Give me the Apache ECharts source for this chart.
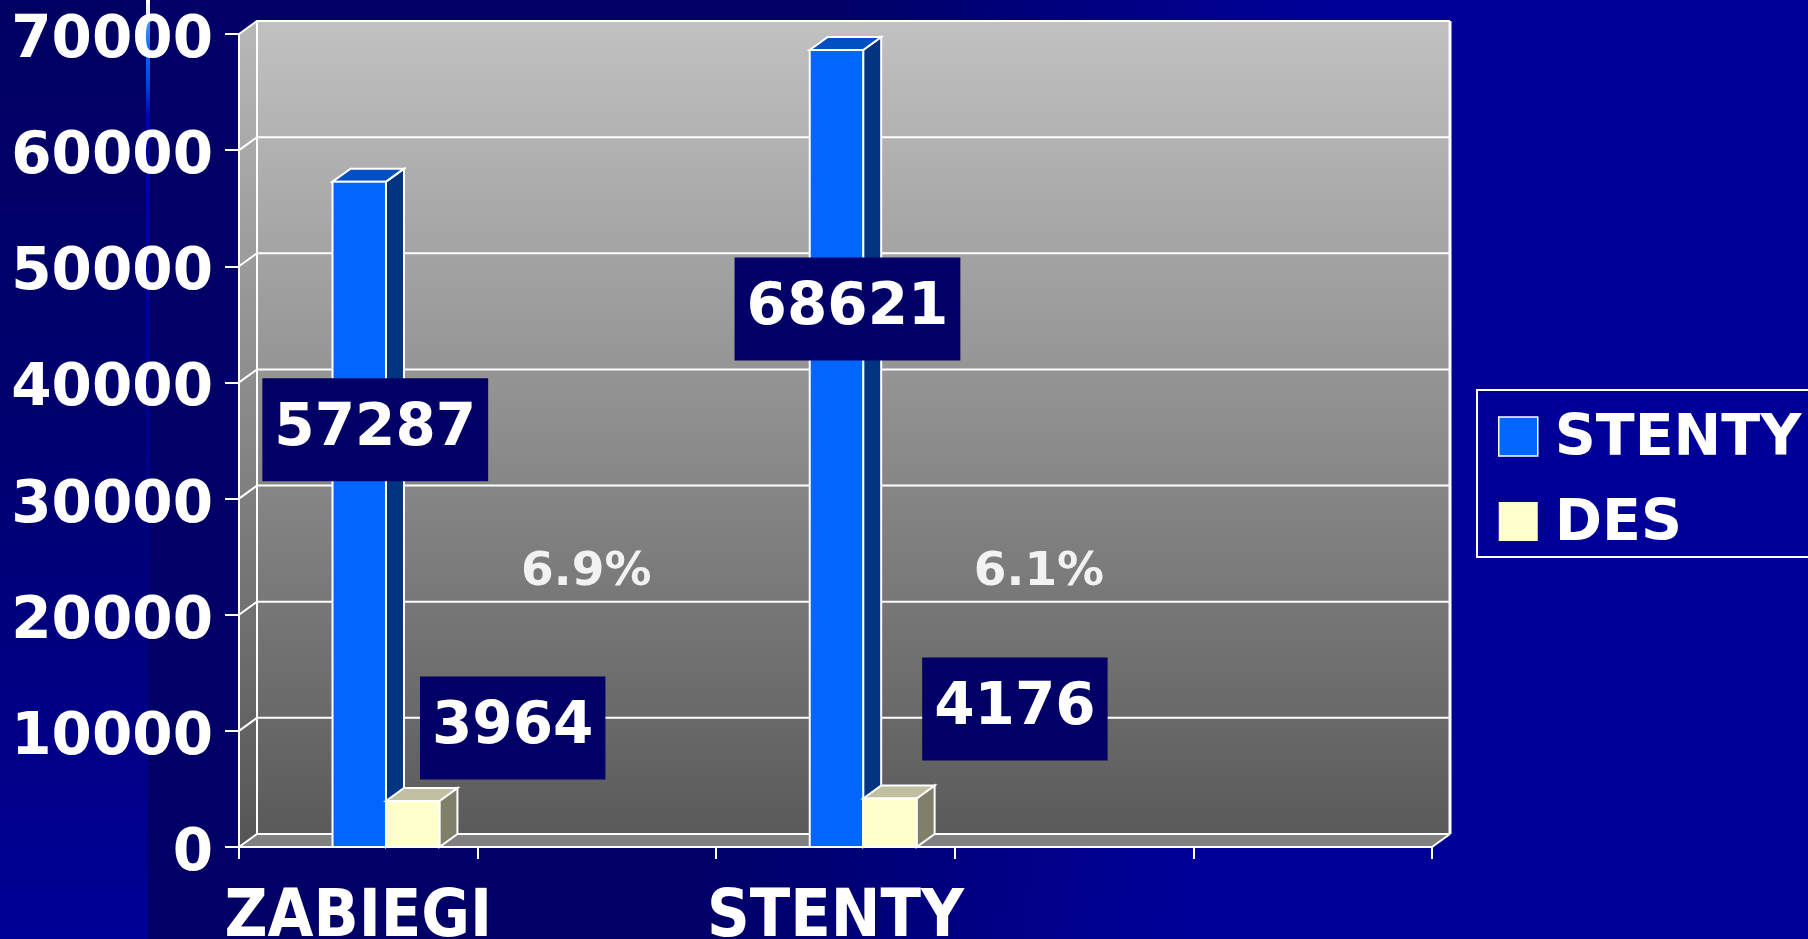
<!DOCTYPE html>
<html>
<head>
<meta charset="utf-8">
<script src="https://cdn.jsdelivr.net/npm/echarts@6/dist/echarts.min.js"></script>
<style>
html,body{margin:0;padding:0;background:#000066;overflow:hidden;}
#c{width:1808px;height:939px;}
</style>
</head>
<body>
<div id="c"></div>
<script>
// ---- DATA ----
const categories = ['ZABIEGI', '', 'STENTY', '', ''];
const seriesNames = ['STENTY', 'DES'];
const stentyValues = [57287, null, 68621, null, null];
const desValues = [3964, null, 4176, null, null];
const ratioLabels = ['6.9%', null, '6.1%', null, null];
const yTicks = [0, 10000, 20000, 30000, 40000, 50000, 60000, 70000];

// ---- STYLE ----
const DX = 18, DY = -13;               // 3D depth offset
const BAR_W = 0.224;                   // bar width as share of band
const BAR_START = [-0.108, 0.116];     // bar left edge offset as share of band
const BAR_COLORS = [
  {front: '#0066ff', top: '#0050c4', side: '#003380'},
  {front: '#ffffcc', top: '#c0c0a0', side: '#80806a'}
];
const LABEL_OFFSETS = [
  [[16, 248], null, [11, 259], null, null],
  [[100, -73], null, [125, -89.5], null, null]
];
const RATIO_DX = [228, null, 203.5, null, null];
const RATIO_Y_VALUE = 23600;
const FONT = '"DejaVu Sans", Verdana, sans-serif';
const FONT_COND = '"DejaVu Sans Condensed", "DejaVu Sans", sans-serif';

const chart = echarts.init(document.getElementById('c'), null, {renderer: 'canvas'});

function frameRender(params, api) {
  const cs = params.coordSys;
  const x0 = cs.x, x1 = cs.x + cs.width, yT = cs.y, yB = cs.y + cs.height;
  const ch = [];
  ch.push({type: 'polygon', shape: {points: [[x0, yB], [x1, yB], [x1 + DX, yB + DY], [x0 + DX, yB + DY]]},
    style: {fill: '#808080'}});
  ch.push({type: 'polygon', shape: {points: [[x0, yB], [x0, yT], [x0 + DX, yT + DY], [x0 + DX, yB + DY]]},
    style: {fill: new echarts.graphic.LinearGradient(0, 0, 0, 1, [
      {offset: 0, color: '#b8b8b8'}, {offset: 1, color: '#555555'}])}});
  ch.push({type: 'rect', shape: {x: x0 + DX, y: yT + DY, width: cs.width, height: cs.height},
    style: {fill: new echarts.graphic.LinearGradient(0, 0, 0, 1, [
      {offset: 0, color: '#c1c1c1'}, {offset: 1, color: '#5a5a5a'}])}});
  yTicks.forEach(function (v) {
    const y = api.coord([0, v])[1];
    ch.push({type: 'polyline', shape: {points: [[x0, y], [x0 + DX, y + DY], [x1 + DX, y + DY]]},
      style: {stroke: '#ffffff', lineWidth: 2, fill: null}});
  });
  ch.push({type: 'line', shape: {x1: x0 + DX, y1: yT + DY, x2: x0 + DX, y2: yB + DY}, style: {stroke: '#ffffff', lineWidth: 2}});
  ch.push({type: 'line', shape: {x1: x1 + DX, y1: yT + DY, x2: x1 + DX, y2: yB + DY}, style: {stroke: '#ffffff', lineWidth: 3}});
  ch.push({type: 'line', shape: {x1: x1, y1: yB, x2: x1 + DX, y2: yB + DY}, style: {stroke: '#ffffff', lineWidth: 2}});
  return {type: 'group', children: ch};
}

function barRender(sIdx) {
  return function (params, api) {
    const i = api.value(0), v = api.value(1);
    const base = api.coord([i, 0]);
    const top = api.coord([i, v]);
    const bw = api.size([1, 0])[0];
    const w = bw * BAR_W;
    const xl = base[0] + bw * BAR_START[sIdx];
    const yT = top[1], yB = base[1];
    const c = BAR_COLORS[sIdx];
    const ch = [
      {type: 'polygon', shape: {points: [[xl + w, yB], [xl + w, yT], [xl + w + DX, yT + DY], [xl + w + DX, yB + DY]]},
        style: {fill: c.side, stroke: '#ffffff', lineWidth: 2}},
      {type: 'polygon', shape: {points: [[xl, yT], [xl + DX, yT + DY], [xl + w + DX, yT + DY], [xl + w, yT]]},
        style: {fill: c.top, stroke: '#ffffff', lineWidth: 2}},
      {type: 'rect', shape: {x: xl, y: yT, width: w, height: yB - yT},
        style: {fill: c.front, stroke: '#ffffff', lineWidth: 2}}
    ];
    const off = LABEL_OFFSETS[sIdx][i];
    if (off) {
      ch.push({type: 'text', x: xl + w / 2 + off[0], y: yT + off[1], z2: 50,
        style: {text: String(v), fill: '#ffffff', fontSize: 58, fontWeight: 'bold', fontFamily: FONT,
          align: 'center', verticalAlign: 'middle', backgroundColor: '#000066',
          padding: [28, 12, 17, 12], lineHeight: 58}});
    }
    return {type: 'group', children: ch};
  };
}

function ratioRender(params, api) {
  const i = api.value(0);
  const p = api.coord([i, RATIO_Y_VALUE]);
  return {type: 'text', x: p[0] + RATIO_DX[i], y: p[1],
    style: {text: ratioLabels[i], fill: '#f2f2f2', fontSize: 47, fontWeight: 'bold', fontFamily: FONT,
      align: 'center', verticalAlign: 'middle'}};
}

function seriesData(vals) {
  return vals.map(function (v, i) { return [i, v]; }).filter(function (d) { return d[1] != null; });
}

const option = {
  animation: false,
  backgroundColor: 'transparent',
  graphic: [
    {type: 'rect', z: -30, silent: true, shape: {x: 0, y: 0, width: 1808, height: 939},
      style: {fill: new echarts.graphic.LinearGradient(0, 0, 1, 0.3, [
        {offset: 0, color: '#000066'}, {offset: 0.45, color: '#000066'},
        {offset: 0.72, color: '#000099'}, {offset: 1, color: '#000099'}])}},
    {type: 'rect', z: -29, silent: true, shape: {x: 0, y: 0, width: 148, height: 939},
      style: {fill: new echarts.graphic.LinearGradient(0, 0, 0, 1, [
        {offset: 0, color: '#000062'}, {offset: 0.45, color: '#00006e'}, {offset: 1, color: '#000096'}])}},
    {type: 'rect', z: -28, silent: true, shape: {x: 146, y: 0, width: 4, height: 650},
      style: {fill: new echarts.graphic.LinearGradient(0, 0, 0, 1, [
        {offset: 0, color: '#ffffff'}, {offset: 0.02, color: '#e8eeff'}, {offset: 0.035, color: '#4d94ff'},
        {offset: 0.08, color: '#0066ff'}, {offset: 0.13, color: '#0044dd'}, {offset: 0.18, color: '#0000b4'},
        {offset: 0.5, color: '#00009e'}, {offset: 1, color: 'rgba(0,0,160,0)'}])}}
  ],
  grid: {left: 239, right: 376, top: 34, bottom: 92, containLabel: false, outerBoundsMode: 'none'},
  legend: {
    orient: 'vertical', left: 1477, top: 390,
    data: [
      {name: 'STENTY', icon: 'rect', itemStyle: {color: '#0066ff', borderColor: '#ffffff', borderWidth: 1.5}},
      {name: 'DES', icon: 'rect', itemStyle: {color: '#ffffcc', borderColor: '#ffffcc', borderWidth: 0}}
    ],
    itemWidth: 39, itemHeight: 39, itemGap: 20,
    padding: [14, 40, 3, 21],
    borderColor: '#ffffff', borderWidth: 2,
    selectedMode: false,
    formatter: '{t|{name}}',
    textStyle: {color: '#ffffff', fontSize: 57, fontWeight: 'bold', fontFamily: FONT,
      rich: {t: {color: '#ffffff', fontSize: 57, fontWeight: 'bold', fontFamily: FONT, lineHeight: 60, padding: [8, 0, 0, 12]}}}
  },
  xAxis: {
    type: 'category', data: categories, boundaryGap: true, z: 5,
    axisLine: {show: true, lineStyle: {color: '#ffffff', width: 2}},
    axisTick: {show: true, length: 12, lineStyle: {color: '#ffffff', width: 2}},
    axisLabel: {show: true, interval: 0, color: '#ffffff', fontSize: 66, fontWeight: 'bold', fontFamily: FONT_COND, margin: 39},
    splitLine: {show: false}
  },
  yAxis: {
    type: 'value', min: 0, max: 70000, interval: 10000, z: 5,
    axisLine: {show: true, lineStyle: {color: '#ffffff', width: 2}},
    axisTick: {show: true, length: 14, lineStyle: {color: '#ffffff', width: 2}},
    axisLabel: {show: true, color: '#ffffff', fontSize: 58, fontWeight: 'bold', fontFamily: FONT, margin: 26,
      verticalAlign: 'top', lineHeight: 16,
      formatter: function (v) { return String(v); }},
    splitLine: {show: false}
  },
  series: [
    {type: 'custom', name: 'frame', z: 1, silent: true, renderItem: frameRender, data: [[0, 0]], encode: {x: 0, y: 1}},
    {type: 'custom', name: seriesNames[0], z: 2, renderItem: barRender(0), itemStyle: {color: '#0066ff'},
      data: seriesData(stentyValues), encode: {x: 0, y: 1}},
    {type: 'custom', name: seriesNames[1], z: 3, renderItem: barRender(1), itemStyle: {color: '#ffffcc'},
      data: seriesData(desValues), encode: {x: 0, y: 1}},
    {type: 'custom', name: 'ratio', z: 4, silent: true, renderItem: ratioRender,
      data: ratioLabels.map(function (t, i) { return [i, RATIO_Y_VALUE, t]; }).filter(function (d) { return d[2] != null; }),
      encode: {x: 0, y: 1}}
  ]
};
chart.setOption(option);
</script>
</body>
</html>
